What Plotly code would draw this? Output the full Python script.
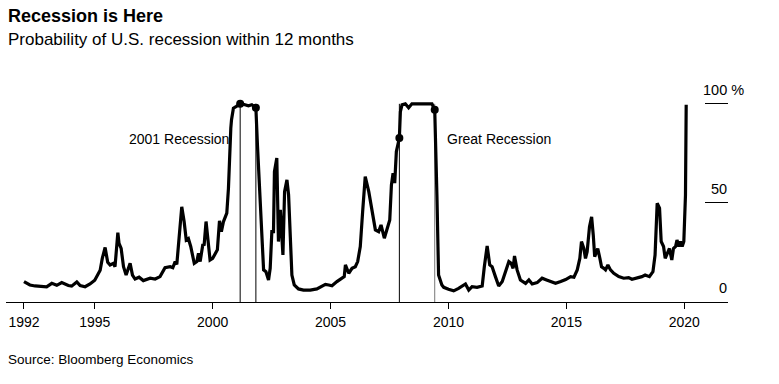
import plotly.graph_objects as go

# ---- data (decimal years, probability in %) ----
dates = [
    1992.00, 1992.25, 1992.47, 1992.75, 1992.96, 1993.18, 1993.39, 1993.60, 1993.88, 1994.02,
    1994.24, 1994.38, 1994.59, 1994.80, 1995.00, 1995.23, 1995.32, 1995.44, 1995.55, 1995.65,
    1995.79, 1995.86, 1995.98, 1996.03, 1996.12, 1996.22, 1996.33, 1996.50, 1996.60, 1996.71,
    1996.88, 1997.06, 1997.35, 1997.56, 1997.77, 1997.98, 1998.20, 1998.31, 1998.41, 1998.48,
    1998.59, 1998.69, 1998.79, 1998.88, 1998.97, 1999.07, 1999.22, 1999.33, 1999.40, 1999.47,
    1999.58, 1999.64, 1999.72, 1999.82, 1999.89, 2000.00, 2000.10, 2000.20, 2000.29, 2000.37,
    2000.46, 2000.60, 2000.67, 2000.71, 2000.74, 2000.77, 2000.80, 2000.88, 2000.99, 2001.167,
    2001.30, 2001.52, 2001.66, 2001.833, 2001.90, 2001.99, 2002.09, 2002.16, 2002.26, 2002.37,
    2002.44, 2002.51, 2002.58, 2002.62, 2002.72, 2002.79, 2002.87, 2002.98, 2003.05, 2003.15,
    2003.22, 2003.29, 2003.36, 2003.46, 2003.64, 2003.85, 2004.14, 2004.42, 2004.63, 2004.78,
    2004.92, 2005.06, 2005.27, 2005.48, 2005.58, 2005.63, 2005.77, 2005.91, 2006.05, 2006.15,
    2006.26, 2006.36, 2006.47, 2006.62, 2006.76, 2006.90, 2007.04, 2007.14, 2007.28, 2007.40,
    2007.51, 2007.58, 2007.65, 2007.72, 2007.79, 2007.917, 2007.96, 2008.03, 2008.17, 2008.31,
    2008.45, 2009.30, 2009.417, 2009.51, 2009.58, 2009.72, 2009.80, 2010.00, 2010.22, 2010.43,
    2010.72, 2010.86, 2011.00, 2011.21, 2011.43, 2011.52, 2011.64, 2011.75, 2011.85, 2011.99,
    2012.13, 2012.28, 2012.42, 2012.56, 2012.66, 2012.74, 2012.80, 2012.91, 2013.05, 2013.27,
    2013.41, 2013.55, 2013.76, 2013.97, 2014.16, 2014.33, 2014.54, 2014.76, 2014.97, 2015.18,
    2015.32, 2015.46, 2015.57, 2015.64, 2015.74, 2015.81, 2015.88, 2015.98, 2016.07, 2016.14,
    2016.20, 2016.28, 2016.33, 2016.42, 2016.49, 2016.59, 2016.66, 2016.76, 2016.87, 2017.01,
    2017.22, 2017.43, 2017.64, 2017.78, 2017.99, 2018.20, 2018.34, 2018.52, 2018.67, 2018.76,
    2018.85, 2018.95, 2019.02, 2019.12, 2019.19, 2019.29, 2019.37, 2019.47, 2019.54, 2019.63,
    2019.69, 2019.77, 2019.84, 2019.91, 2019.98, 2020.05, 2020.08,
]
prob = [
    10.3, 8.6, 8.1, 8.0, 7.6, 9.4, 8.4, 9.8, 8.3, 8.0,
    10.1, 8.3, 7.7, 9.1, 11.0, 16.0, 22.0, 27.5, 20.0, 18.7,
    19.5, 17.8, 35.0, 29.6, 27.0, 17.8, 13.6, 19.5, 13.6, 11.6,
    12.5, 10.8, 12.0, 11.6, 12.8, 17.3, 17.8, 17.3, 20.4, 19.0,
    37.0, 48.0, 40.6, 31.3, 32.0, 28.0, 19.5, 20.4, 24.6, 20.4,
    28.8, 29.0, 40.6, 27.0, 21.2, 22.0, 24.6, 26.3, 41.0, 35.5,
    40.6, 44.8, 57.4, 74.0, 84.0, 87.7, 92.0, 97.8, 98.6, 100.0,
    99.8, 99.0, 99.5, 98.0, 79.0, 57.4, 33.8, 16.2, 15.3, 11.1,
    17.0, 35.5, 35.5, 65.8, 72.6, 30.5, 46.5, 23.7, 55.7, 61.6,
    54.0, 30.5, 13.6, 8.6, 6.6, 6.0, 6.0, 6.6, 7.7, 8.9,
    8.6, 8.2, 10.3, 12.0, 12.8, 18.7, 14.5, 17.0, 17.8, 20.4,
    28.0, 45.6, 63.3, 55.7, 44.8, 36.4, 35.5, 38.9, 32.2, 36.4,
    41.4, 59.0, 65.0, 60.0, 75.9, 82.7, 96.0, 99.5, 100.0, 98.0,
    100.0, 100.0, 97.0, 54.0, 13.6, 8.6, 7.4, 6.4, 5.6, 6.9,
    9.1, 6.0, 7.7, 7.4, 8.1, 17.8, 28.3, 18.7, 17.8, 12.8,
    8.1, 10.3, 15.3, 20.4, 19.5, 17.0, 23.2, 16.2, 11.1, 9.4,
    11.1, 9.1, 9.8, 12.0, 11.1, 10.3, 9.4, 10.3, 11.3, 12.8,
    12.5, 16.2, 22.0, 30.5, 27.0, 22.0, 25.4, 38.0, 43.0, 33.8,
    22.9, 25.4, 27.0, 22.0, 17.8, 17.0, 16.2, 18.7, 16.2, 14.5,
    12.8, 12.0, 12.3, 11.5, 12.0, 12.8, 13.6, 12.8, 15.3, 23.7,
    49.8, 47.3, 30.5, 28.0, 22.0, 25.4, 27.0, 21.2, 27.0, 28.0,
    31.3, 28.0, 30.5, 28.0, 30.5, 54.0, 99.5,
]

recession_dates = [2001.167, 2001.833, 2007.917, 2009.417]
recession_names = ["2001 Recession", "Great Recession"]

x_tickvals = [1992, 1995, 2000, 2005, 2010, 2015, 2020]
x_ticktext = ["1992", "1995", "2000", "2005", "2010", "2015", "2020"]
y_tickvals = [0, 50, 100]
y_ticktext = ["0", "50", "100 %"]

title = "Recession is Here"
subtitle = "Probability of U.S. recession within 12 months"
source = "Source: Bloomberg Economics"

FONT = "Liberation Sans, Arial, sans-serif"

lookup = dict(zip(dates, prob))
dot_vals = [lookup[d] for d in recession_dates]

fig = go.Figure()
fig.add_trace(go.Scatter(
    x=dates, y=prob, mode="lines",
    line=dict(color="#000000", width=3.2),
    hoverinfo="skip", showlegend=False,
))
fig.add_trace(go.Scatter(
    x=recession_dates, y=dot_vals, mode="markers",
    marker=dict(color="#000000", size=8),
    hoverinfo="skip", showlegend=False,
))

line_colors = ["#000000", "#000000", "#000000", "#777777"]
for d, c in zip(recession_dates, line_colors):
    fig.add_shape(type="line", xref="x", yref="y", x0=d, x1=d, y0=0, y1=100,
                  line=dict(color=c, width=1), layer="below")

# recession labels
fig.add_annotation(x=recession_dates[0], y=82, xref="x", yref="y", text=recession_names[0],
                   showarrow=False, xanchor="right", yanchor="middle", xshift=-9,
                   font=dict(family=FONT, size=14, color="#000000"))
fig.add_annotation(x=recession_dates[3], y=82, xref="x", yref="y", text=recession_names[1],
                   showarrow=False, xanchor="left", yanchor="middle", xshift=10,
                   font=dict(family=FONT, size=14, color="#000000"))

# right-side y labels
for v, t in zip(y_tickvals, y_ticktext):
    extra = 17 if "%" in t else 0
    fig.add_annotation(x=1.0, y=v, xref="paper", yref="y", text=t, showarrow=False,
                       xanchor="right", yanchor="middle", xshift=1 + extra, yshift=14,
                       font=dict(family=FONT, size=14.5, color="#000000"))

# title / subtitle / source
fig.add_annotation(x=0, y=1.31, xref="paper", yref="paper", text="<b>" + title + "</b>",
                   showarrow=False, xanchor="left", yanchor="middle",
                   font=dict(family=FONT, size=18, color="#000000"))
fig.add_annotation(x=0, y=1.206, xref="paper", yref="paper", text=subtitle,
                   showarrow=False, xanchor="left", yanchor="middle",
                   font=dict(family=FONT, size=17, color="#000000"))
fig.add_annotation(x=0, y=-0.266, xref="paper", yref="paper", text=source,
                   showarrow=False, xanchor="left", yanchor="middle",
                   font=dict(family=FONT, size=13.5, color="#000000"))

fig.update_layout(
    width=779, height=384,
    margin=dict(l=6, r=51, t=84, b=82),
    paper_bgcolor="#ffffff", plot_bgcolor="#ffffff",
    font=dict(family=FONT, color="#000000"),
    showlegend=False,
    xaxis=dict(
        range=[1991.237, 2021.853], tickmode="array",
        tickvals=x_tickvals, ticktext=x_ticktext,
        showgrid=False, zeroline=False,
        showline=True, linecolor="#000000", linewidth=1,
        ticks="outside", ticklen=6, tickcolor="#000000", tickwidth=1,
        ticklabelstandoff=1,
        tickfont=dict(family=FONT, size=14, color="#000000"),
    ),
    yaxis=dict(
        range=[0, 110], side="right", tickmode="array",
        tickvals=y_tickvals, showticklabels=False,
        showgrid=False, zeroline=False, showline=False,
        ticks="inside", ticklen=23, tickcolor="#000000", tickwidth=1,
    ),
)

fig.write_html("out.html", config={"displayModeBar": False},
               post_script="document.body.style.margin='0px';")
